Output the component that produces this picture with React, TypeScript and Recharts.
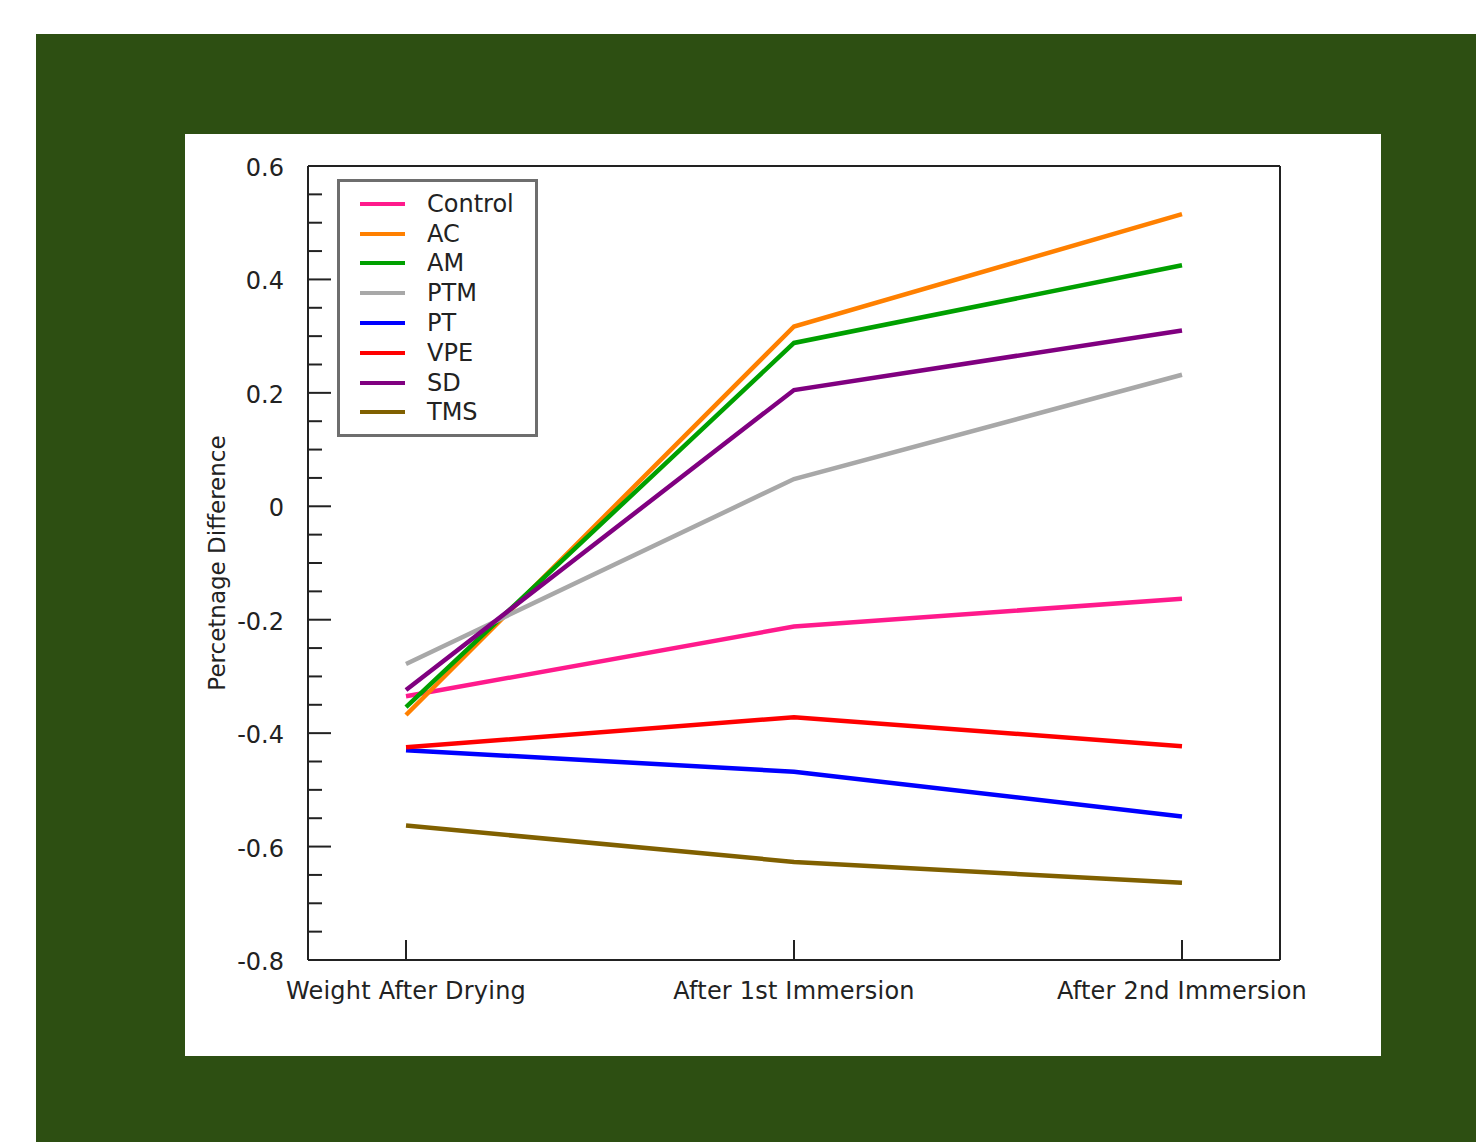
import {
  LineChart,
  Line,
  XAxis,
  YAxis,
  Legend,
} from 'recharts';

const STAGES = ['Weight After Drying', 'After 1st Immersion', 'After 2nd Immersion'];

const CONTROL = [-0.335, -0.212, -0.163];
const AC = [-0.368, 0.317, 0.515];
const AM = [-0.354, 0.288, 0.425];
const PTM = [-0.278, 0.048, 0.232];
const PT = [-0.43, -0.468, -0.547];
const VPE = [-0.425, -0.372, -0.423];
const SD = [-0.324, 0.205, 0.31];
const TMS = [-0.563, -0.627, -0.664];

const Y_TICKS = [
  -0.8, -0.75, -0.7, -0.65, -0.6, -0.55, -0.5, -0.45, -0.4, -0.35, -0.3, -0.25, -0.2, -0.15,
  -0.1, -0.05, 0, 0.05, 0.1, 0.15, 0.2, 0.25, 0.3, 0.35, 0.4, 0.45, 0.5, 0.55, 0.6,
];

const SERIES = [
  { key: 'Control', values: CONTROL, color: '#ff1a8c' },
  { key: 'AC', values: AC, color: '#ff8000' },
  { key: 'AM', values: AM, color: '#00a000' },
  { key: 'PTM', values: PTM, color: '#a8a8a8' },
  { key: 'PT', values: PT, color: '#0000ff' },
  { key: 'VPE', values: VPE, color: '#ff0000' },
  { key: 'SD', values: SD, color: '#800080' },
  { key: 'TMS', values: TMS, color: '#806000' },
];

const data = STAGES.map((stage, i) => {
  const row: Record<string, string | number> = { stage };
  SERIES.forEach((s) => {
    row[s.key] = s.values[i];
  });
  return row;
});

const FONT = '"DejaVu Sans", Verdana, sans-serif';
const AXIS_COLOR = '#222';

const isMajor = (v: number) => Math.abs(v * 5 - Math.round(v * 5)) < 1e-6;

// ticks point into the plot, minor every 0.05
function YTick({ x, y, payload }: any) {
  const v = payload.value as number;
  const major = isMajor(v);
  return (
    <g>
      <line x1={x} x2={x + (major ? 23 : 14)} y1={y} y2={y} stroke={AXIS_COLOR} strokeWidth={2} />
      {major && (
        <text
          x={x - 24}
          y={y + 2}
          textAnchor="end"
          dominantBaseline="central"
          fontFamily={FONT}
          fontSize={24}
          fill={AXIS_COLOR}
        >
          {Number(v.toFixed(1)).toString()}
        </text>
      )}
    </g>
  );
}

function XTick({ x, y, payload }: any) {
  return (
    <g>
      <line x1={x} x2={x} y1={y} y2={y - 20} stroke={AXIS_COLOR} strokeWidth={2} />
      <text
        x={x}
        y={y + 31}
        textAnchor="middle"
        dominantBaseline="central"
        fontFamily={FONT}
        fontSize={24}
        letterSpacing={0.2}
        fill={AXIS_COLOR}
      >
        {payload.value}
      </text>
    </g>
  );
}

function LegendBox() {
  return (
    <div
      style={{
        boxSizing: 'border-box',
        width: 201,
        height: 258,
        border: '3px solid #6e6e6e',
        background: '#fff',
        paddingTop: 7,
        fontFamily: FONT,
        fontSize: 24,
        color: AXIS_COLOR,
      }}
    >
      {SERIES.map((s) => (
        <div key={s.key} style={{ display: 'flex', alignItems: 'center', height: 29.8 }}>
          <div style={{ width: 45, height: 4, marginLeft: 20, background: s.color }} />
          <span style={{ marginLeft: 22, lineHeight: '24px' }}>{s.key}</span>
        </div>
      ))}
    </div>
  );
}

export default function App() {
  return (
    <div
      style={{
        position: 'absolute',
        left: 0,
        top: 0,
        width: 1476,
        height: 1142,
        background: '#fff',
        overflow: 'hidden',
      }}
    >
      <div
        style={{
          position: 'absolute',
          left: 36,
          top: 34,
          width: 1440,
          height: 1108,
          background: '#2d4f12',
        }}
      />
      <div
        style={{
          position: 'absolute',
          left: 185,
          top: 134,
          width: 1196,
          height: 922,
          background: '#fff',
        }}
      >
        <LineChart
          width={1196}
          height={922}
          data={data}
          margin={{ top: 31, right: 100, bottom: 95, left: 122 }}
        >
          <XAxis
            dataKey="stage"
            type="category"
            height={1}
            padding={{ left: 98, right: 98 }}
            tickSize={0}
            tickMargin={0}
            tick={<XTick />}
            axisLine={{ stroke: AXIS_COLOR, strokeWidth: 2 }}
            interval={0}
          />
          <XAxis
            xAxisId="top"
            dataKey="stage"
            orientation="top"
            height={1}
            tick={false}
            tickLine={false}
            axisLine={{ stroke: AXIS_COLOR, strokeWidth: 2 }}
          />
          <YAxis
            type="number"
            domain={[-0.8, 0.6]}
            ticks={Y_TICKS}
            interval={0}
            width={1}
            tickSize={0}
            tickMargin={0}
            tick={<YTick />}
            axisLine={{ stroke: AXIS_COLOR, strokeWidth: 2 }}
            label={{
              value: 'Percetnage Difference',
              angle: -90,
              position: 'insideLeft',
              dx: -95,
              dy: 0,
              style: { textAnchor: 'middle', fontFamily: FONT, fontSize: 23, fill: AXIS_COLOR },
            }}
          />
          <YAxis
            yAxisId="right"
            orientation="right"
            type="number"
            domain={[-0.8, 0.6]}
            width={1}
            tick={false}
            tickLine={false}
            axisLine={{ stroke: AXIS_COLOR, strokeWidth: 2 }}
          />
          <Legend
            layout="vertical"
            align="center"
            verticalAlign="middle"
            content={<LegendBox />}
            wrapperStyle={{ position: 'absolute', left: 152, top: 45, width: 'auto', height: 'auto' }}
          />
          {SERIES.map((s) => (
            <Line
              key={s.key}
              type="linear"
              dataKey={s.key}
              stroke={s.color}
              strokeWidth={4.5}
              dot={false}
              activeDot={false}
              isAnimationActive={false}
            />
          ))}
        </LineChart>
      </div>
    </div>
  );
}
